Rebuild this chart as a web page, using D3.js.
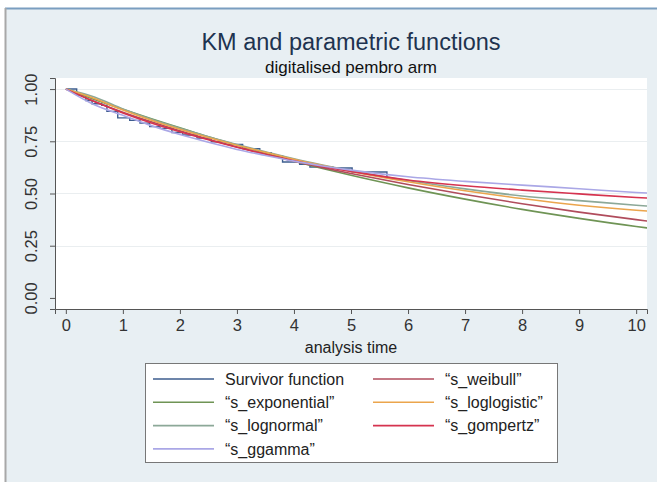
<!DOCTYPE html>
<html>
<head>
<meta charset="utf-8">
<script src="https://cdn.jsdelivr.net/npm/d3@7"></script>
<style>
  body { margin: 0; background: #fff; }
  text { font-family: "Liberation Sans", Arial, sans-serif; }
</style>
</head>
<body>
<div id="chart"></div>
<script>
// values
var xTicks = [0, 1, 2, 3, 4, 5, 6, 7, 8, 9, 10];
var yTicks = [0, 0.25, 0.5, 0.75, 1];

// Kaplan-Meier steps (time, survival)
var kmTime = [0, 0.19, 0.35, 0.46, 0.63, 0.72, 0.91, 1.12, 1.3, 1.47, 1.65, 1.86, 2.05, 2.3, 2.55, 2.8, 3.1, 3.4, 3.6, 3.8, 4.1, 4.28, 4.68, 5.02, 5.63];
var kmSurv = [1, 0.97, 0.945, 0.93, 0.922, 0.893, 0.862, 0.85, 0.837, 0.82, 0.812, 0.792, 0.78, 0.765, 0.748, 0.735, 0.715, 0.695, 0.68, 0.651, 0.64, 0.627, 0.622, 0.603, 0.579];
var kmEnd = 5.63;

// parametric fits, read at these times
var fitTime = [0, 0.5, 1, 1.5, 2, 2.5, 3, 3.5, 4, 4.5, 5, 6, 7, 8, 9, 10, 10.2];
var sExponential = [1, 0.950, 0.903, 0.858, 0.815, 0.772, 0.732, 0.693, 0.655, 0.620, 0.587, 0.527, 0.473, 0.424, 0.381, 0.342, 0.335];
var sWeibull     = [1, 0.940, 0.889, 0.843, 0.800, 0.760, 0.723, 0.688, 0.654, 0.624, 0.596, 0.543, 0.495, 0.451, 0.411, 0.375, 0.368];
var sLognormal   = [1, 0.962, 0.905, 0.855, 0.812, 0.772, 0.735, 0.700, 0.666, 0.636, 0.609, 0.562, 0.522, 0.488, 0.466, 0.444, 0.440];
var sLoglogistic = [1, 0.955, 0.900, 0.851, 0.808, 0.768, 0.731, 0.697, 0.664, 0.634, 0.606, 0.556, 0.513, 0.476, 0.444, 0.420, 0.416];
var sGompertz    = [1, 0.940, 0.886, 0.838, 0.796, 0.757, 0.721, 0.688, 0.657, 0.630, 0.606, 0.565, 0.537, 0.516, 0.498, 0.481, 0.478];
var sGgamma      = [1, 0.925, 0.875, 0.825, 0.782, 0.745, 0.711, 0.682, 0.655, 0.632, 0.612, 0.580, 0.558, 0.540, 0.523, 0.505, 0.502];

var series = [
  {name: "\u201cs_exponential\u201d", vals: sExponential, color: "#6f9455"},
  {name: "\u201cs_weibull\u201d",     vals: sWeibull,     color: "#b04c5c"},
  {name: "\u201cs_lognormal\u201d",   vals: sLognormal,   color: "#8ca898"},
  {name: "\u201cs_loglogistic\u201d", vals: sLoglogistic, color: "#eba54d"},
  {name: "\u201cs_gompertz\u201d",    vals: sGompertz,    color: "#d5334f"},
  {name: "\u201cs_ggamma\u201d",      vals: sGgamma,      color: "#aaa7e6"}
];

var kmColor = "#3d5d8e";

var W = 657, H = 482;
var svg = d3.select("#chart").append("svg").attr("width", W).attr("height", H);

// outer frame
svg.append("rect").attr("x", 5).attr("y", 8).attr("width", W - 5).attr("height", H - 8).attr("fill", "#e8eff3");
svg.append("line").attr("x1", 5).attr("x2", W).attr("y1", 8.5).attr("y2", 8.5).attr("stroke", "#7a9ec0").attr("stroke-width", 2);
svg.append("line").attr("x1", 5.5).attr("x2", 5.5).attr("y1", 8).attr("y2", H).attr("stroke", "#a8a8a8").attr("stroke-width", 2);

var x = d3.scaleLinear().domain([-0.19, 10.19]).range([55, 647]);
var y = d3.scaleLinear().domain([-0.053, 1.053]).range([309, 78]);

// plot region
svg.append("rect").attr("x", 55).attr("y", 78).attr("width", 592).attr("height", 231).attr("fill", "#fff");

svg.selectAll(".grid").data(yTicks.filter(function(d) { return d > 0; }))
  .enter().append("line")
  .attr("x1", 55).attr("x2", 647)
  .attr("y1", function(d) { return Math.round(y(d)) + 0.5; })
  .attr("y2", function(d) { return Math.round(y(d)) + 0.5; })
  .attr("stroke", "#eaeef0").attr("stroke-width", 1.2);

// axes
var xAxis = svg.append("g").attr("transform", "translate(0,309)")
  .call(d3.axisBottom(x).tickValues(xTicks).tickSize(5).tickPadding(5).tickFormat(d3.format("d")));
var yAxis = svg.append("g").attr("transform", "translate(55,0)")
  .call(d3.axisLeft(y).tickValues(yTicks).tickSize(5).tickFormat(d3.format(".2f")));
[xAxis, yAxis].forEach(function(g) {
  g.select(".domain").attr("stroke", "#555");
  g.selectAll(".tick line").attr("stroke", "#555");
  g.selectAll("text").attr("font-size", 16.5).attr("fill", "#333")
    .attr("font-family", "Liberation Sans, Arial, sans-serif");
});
yAxis.selectAll(".tick text")
  .attr("x", null).attr("dy", null)
  .attr("text-anchor", "middle")
  .attr("transform", "translate(-22,0) rotate(-90)")
  .attr("dominant-baseline", "middle");

// fitted curves
var line = d3.line()
  .x(function(d) { return x(d[0]); })
  .y(function(d) { return y(d[1]); })
  .curve(d3.curveMonotoneX);

svg.append("clipPath").attr("id", "clip").append("rect")
  .attr("x", 55).attr("y", 78).attr("width", 592).attr("height", 231);

var plot = svg.append("g").attr("clip-path", "url(#clip)");

// KM step function
var kmPts = kmTime.map(function(t, i) { return [t, kmSurv[i]]; });
kmPts.push([kmEnd, kmSurv[kmSurv.length - 1]]);
plot.append("path")
  .attr("d", d3.line().x(function(d) { return x(d[0]); }).y(function(d) { return y(d[1]); }).curve(d3.curveStepAfter)(kmPts))
  .attr("fill", "none").attr("stroke", kmColor).attr("stroke-width", 1.4);

series.forEach(function(s) {
  plot.append("path")
    .attr("d", line(fitTime.map(function(t, i) { return [t, s.vals[i]]; })))
    .attr("fill", "none").attr("stroke", s.color).attr("stroke-width", 1.6);
});

// titles
svg.append("text").attr("x", 351).attr("y", 50).attr("text-anchor", "middle")
  .attr("font-size", 23.5).attr("fill", "#1e3350").text("KM and parametric functions");
svg.append("text").attr("x", 351).attr("y", 73).attr("text-anchor", "middle")
  .attr("font-size", 17).attr("fill", "#111").text("digitalised pembro arm");
svg.append("text").attr("x", 351).attr("y", 353).attr("text-anchor", "middle")
  .attr("font-size", 16).attr("fill", "#222").text("analysis time");

// legend
var legendItems = [
  {name: "Survivor function", color: kmColor},
  series[1], series[0], series[3], series[2], series[4], series[5]
];
var lg = svg.append("g");
lg.append("rect").attr("x", 145.5).attr("y", 363.5).attr("width", 412).attr("height", 99)
  .attr("fill", "#fff").attr("stroke", "#777");
legendItems.forEach(function(d, i) {
  var col = i % 2, row = Math.floor(i / 2);
  var x0 = col === 0 ? 153 : 373;
  var yy = 379 + row * 23.3;
  lg.append("line").attr("x1", x0).attr("x2", x0 + 61).attr("y1", yy).attr("y2", yy)
    .attr("stroke", d.color).attr("stroke-width", 1.6);
  lg.append("text").attr("x", x0 + 72).attr("y", yy).attr("dy", "0.35em")
    .attr("font-size", 16).attr("fill", "#222").text(d.name);
});
</script>
</body>
</html>
